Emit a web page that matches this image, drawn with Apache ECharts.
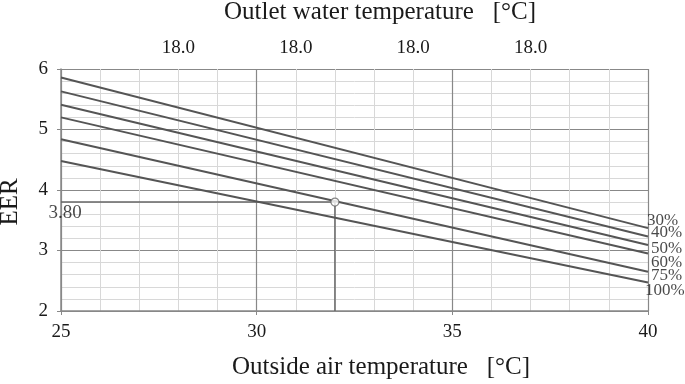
<!DOCTYPE html>
<html><head><meta charset="utf-8">
<script src="https://cdn.jsdelivr.net/npm/echarts@6/dist/echarts.min.js"></script>
<style>html,body{margin:0;padding:0;background:#fff}#c{width:685px;height:384px}</style>
</head><body><div id="c"></div>
<script>
// Data
const seriesNames = ['30%', '40%', '50%', '60%', '75%', '100%'];
const xPoints = [25, 40];
const eerAt25 = [5.86, 5.63, 5.41, 5.20, 4.84, 4.48];
const eerAt40 = [3.37, 3.23, 3.09, 2.95, 2.65, 2.47];
const refPoint = [32, 3.80];
const refLabel = '3.80';
const topTickValues = [28, 31, 34, 37];
const topTickLabels = ['18.0', '18.0', '18.0', '18.0'];

// Styles (label offsets in px)
const labelOffsets = [[-1, -8], [3, -4], [3, 3], [3, 9], [3, 4], [-3, 8]];
const FONT = 'Liberation Serif';
const TXT = '#1a1a1a';
const lineColor = '#555';

const chart = echarts.init(document.getElementById('c'));
const series = seriesNames.map((name, i) => ({
  type: 'line', name: name, symbol: 'none', silent: true,
  lineStyle: {color: lineColor, width: 2},
  data: xPoints.map((x, k) => [x, k === 0 ? eerAt25[i] : eerAt40[i]]),
  z: 3
}));
// end labels
series.push({
  type: 'scatter', symbolSize: 0, silent: true, clip: false,
  data: seriesNames.map((name, i) => ({
    value: [xPoints[xPoints.length - 1], eerAt40[i]],
    label: {show: true, position: 'right', distance: 0, offset: labelOffsets[i],
      formatter: name, fontFamily: FONT, fontSize: 17, color: TXT}
  })), z: 6
});
series.push({
  type: 'line', symbol: 'none', silent: true,
  lineStyle: {color: '#666', width: 1.5},
  data: [[25, refPoint[1]], refPoint, [refPoint[0], 2]], z: 2
});
series.push({
  type: 'scatter', symbol: 'circle', symbolSize: 8, silent: true,
  itemStyle: {color: '#fff', borderColor: '#666', borderWidth: 1.2},
  data: [refPoint], z: 5
});
series.push({
  type: 'scatter', symbolSize: 0, silent: true, clip: false,
  data: [{value: [25, refPoint[1]], label: {show: true, position: 'inside', offset: [4, 11],
    formatter: refLabel, fontFamily: FONT, fontSize: 19, color: TXT}}], z: 6
});

chart.setOption({
  animation: false,
  grid: {left: 61, right: 37, top: 69, bottom: 73, containLabel: false, outerBoundsMode: 'none'},
  graphic: [{
    type: 'text', x: 10, y: 202, rotation: Math.PI / 2, silent: true,
    style: {text: 'EER', fontFamily: FONT, fontSize: 25, fill: TXT, align: 'center', verticalAlign: 'middle'}
  }],
  xAxis: [{
    type: 'value', min: 25, max: 40, interval: 5, position: 'bottom',
    name: 'Outside air temperature   [°C]', nameLocation: 'middle', nameGap: 44,
    nameTextStyle: {fontFamily: FONT, fontSize: 25, color: TXT, padding: [0, 0, 0, 53]},
    axisLine: {show: true, lineStyle: {color: '#888', width: 1.5}},
    axisTick: {show: true, inside: false, length: 4, lineStyle: {color: '#888'}},
    axisLabel: {fontFamily: FONT, fontSize: 19, color: TXT, margin: 12},
    splitLine: {show: true, lineStyle: {color: '#888', width: 1.2}},
    minorTick: {show: false, splitNumber: 5},
    minorSplitLine: {show: true, lineStyle: {color: '#d8d8d8', width: 1}}
  }, {
    type: 'value', min: 25, max: 40, position: 'top',
    name: 'Outlet water temperature   [°C]', nameLocation: 'middle', nameGap: 44,
    nameTextStyle: {fontFamily: FONT, fontSize: 25, color: TXT, padding: [0, 0, 0, 51]},
    axisLine: {show: false}, axisTick: {show: false}, splitLine: {show: false},
    axisLabel: {fontFamily: FONT, fontSize: 19, color: TXT, margin: 11,
      customValues: topTickValues,
      formatter: v => { const i = topTickValues.indexOf(v); return i >= 0 ? topTickLabels[i] : ''; }}
  }],
  yAxis: {
    type: 'value', min: 2, max: 6, interval: 1,
    axisLine: {show: true, lineStyle: {color: '#888', width: 1.5}},
    axisTick: {show: true, inside: false, length: 4, lineStyle: {color: '#888'}},
    axisLabel: {fontFamily: FONT, fontSize: 19, color: TXT, margin: 13},
    splitLine: {show: true, lineStyle: {color: '#888', width: 1.2}},
    minorTick: {show: false, splitNumber: 5},
    minorSplitLine: {show: true, lineStyle: {color: '#d8d8d8', width: 1}}
  },
  series: series
});
</script></body></html>
